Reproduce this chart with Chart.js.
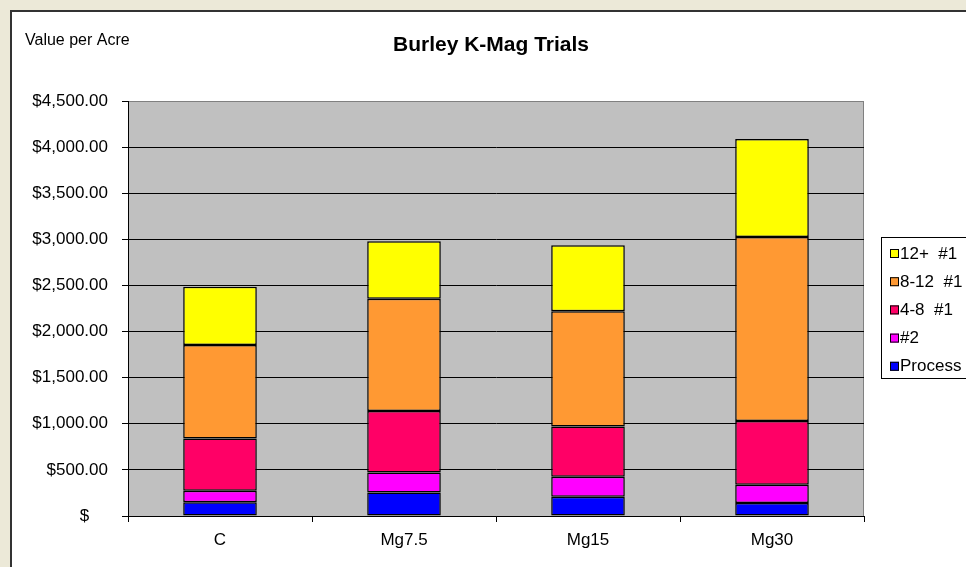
<!DOCTYPE html>
<html>
<head>
<meta charset="utf-8">
<title>Burley K-Mag Trials</title>
<script src="https://cdn.jsdelivr.net/npm/chart.js@4/dist/chart.umd.min.js"></script>
<style>
    html, body {
        margin: 0;
        padding: 0;
        width: 966px;
        height: 567px;
        overflow: hidden;
        background: #ECE9D8;
    }
    .marco {
        position: absolute;
        left: 10px;
        top: 10px;
        width: 956px;
        height: 557px;
        background: #ffffff;
        border-left: 2px solid #333333;
        border-top: 2px solid #333333;
    }
    #graficoKMag {
        position: absolute;
        left: 0;
        top: 0;
    }
</style>
</head>
<body>
<div class="marco"></div>
<canvas id="graficoKMag" width="966" height="567"></canvas>

<script>
// datos
const categorias = ['C', 'Mg7.5', 'Mg15', 'Mg30'];
const process = [148, 256, 209, 141];
const num2 = [126, 216, 216, 198];
const grado48 = [566, 667, 545, 692];
const grado812 = [1013, 1216, 1251, 1995];
const grado12 = [632, 623, 714, 1063];
const etiquetasSeries = ['Process', '#2', '4-8  #1', '8-12  #1', '12+  #1'];
const coloresSeries = ['#0000FF', '#FF00FF', '#FF0066', '#FF9933', '#FFFF00'];
const ticksY = [0, 500, 1000, 1500, 2000, 2500, 3000, 3500, 4000, 4500];
const titulo = 'Burley K-Mag Trials';
const tituloEje = 'Value per Acre';

const FUENTE = "'Liberation Sans', Arial, sans-serif";

function formatoDinero(v) {
    if (v === 0) return '$    ';
    const partes = v.toFixed(2).split('.');
    const miles = partes[0].replace(/\B(?=(\d{3})+(?!\d))/g, ',');
    return '$' + miles + '.' + partes[1];
}

// fondo gris del area y borde
const fondoArea = {
    id: 'fondoArea',
    beforeDraw(chart) {
        const { ctx, chartArea: a } = chart;
        ctx.save();
        ctx.fillStyle = '#C0C0C0';
        ctx.fillRect(a.left, a.top, a.right - a.left, a.bottom - a.top);
        ctx.strokeStyle = '#808080';
        ctx.lineWidth = 1;
        ctx.beginPath();
        ctx.moveTo(a.left, a.top + 0.5);
        ctx.lineTo(a.right - 0.5, a.top + 0.5);
        ctx.lineTo(a.right - 0.5, a.bottom);
        ctx.stroke();
        ctx.restore();
    }
};

// titulos y leyenda
const textos = {
    id: 'textos',
    afterDraw(chart) {
        const ctx = chart.ctx;
        ctx.save();
        ctx.fillStyle = '#000000';
        ctx.textBaseline = 'alphabetic';

        ctx.font = 'bold 21px ' + FUENTE;
        ctx.textAlign = 'center';
        ctx.fillText(titulo, 491, 51);

        ctx.font = '16px ' + FUENTE;
        ctx.textAlign = 'left';
        ctx.fillText(tituloEje, 25, 45);

        // leyenda
        ctx.strokeStyle = '#000000';
        ctx.lineWidth = 1;
        ctx.strokeRect(881.5, 237.5, 120, 141);
        ctx.font = '17px ' + FUENTE;
        ctx.textBaseline = 'middle';
        const ds = chart.data.datasets;
        let k = 0;
        for (let i = ds.length - 1; i >= 0; i--) {
            const y = 253 + k * 28.2;
            ctx.fillStyle = ds[i].backgroundColor;
            ctx.fillRect(890, y - 4, 9, 9);
            ctx.strokeRect(890.5, y - 3.5, 8, 8);
            ctx.fillStyle = '#000000';
            ctx.fillText(ds[i].label, 900, y + 1);
            k++;
        }
        ctx.restore();
    }
};

document.addEventListener("DOMContentLoaded", function () {

    const ctx = document.getElementById('graficoKMag');

    const series = [process, num2, grado48, grado812, grado12];

    if (ctx) {
        new Chart(ctx, {
            type: 'bar',
            data: {
                labels: categorias,
                datasets: series.map((valores, i) => ({
                    label: etiquetasSeries[i],
                    data: valores,
                    backgroundColor: coloresSeries[i],
                    borderColor: '#000000',
                    borderWidth: 1.5,
                    borderSkipped: false
                }))
            },
            options: {
                responsive: false,
                animation: false,
                events: [],
                layout: {
                    padding: { left: 0, top: 101, right: 102, bottom: 0 }
                },
                categoryPercentage: 1,
                barPercentage: 0.4,
                plugins: {
                    legend: { display: false },
                    title: { display: false },
                    tooltip: { enabled: false }
                },
                scales: {
                    x: {
                        stacked: true,
                        afterFit(scale) { scale.height = 51; },
                        grid: {
                            offset: true,
                            drawOnChartArea: false,
                            tickLength: 6,
                            color: '#000000'
                        },
                        border: { color: '#000000', width: 1 },
                        ticks: {
                            color: '#000000',
                            padding: 8,
                            maxRotation: 0,
                            font: { family: FUENTE, size: 17 }
                        }
                    },
                    y: {
                        stacked: true,
                        min: 0,
                        max: 4500,
                        afterFit(scale) { scale.width = 128; },
                        afterBuildTicks(scale) {
                            scale.ticks = ticksY.map(v => ({ value: v }));
                        },
                        grid: {
                            color: c => (c.tick && c.tick.value === 4500) ? '#808080' : '#000000',
                            tickColor: '#000000',
                            tickLength: 6,
                            lineWidth: 1
                        },
                        border: { color: '#000000', width: 1 },
                        ticks: {
                            color: '#000000',
                            padding: 14,
                            font: { family: FUENTE, size: 17 },
                            callback: v => formatoDinero(v)
                        }
                    }
                }
            },
            plugins: [fondoArea, textos]
        });
    }

});
</script>
</body>
</html>
